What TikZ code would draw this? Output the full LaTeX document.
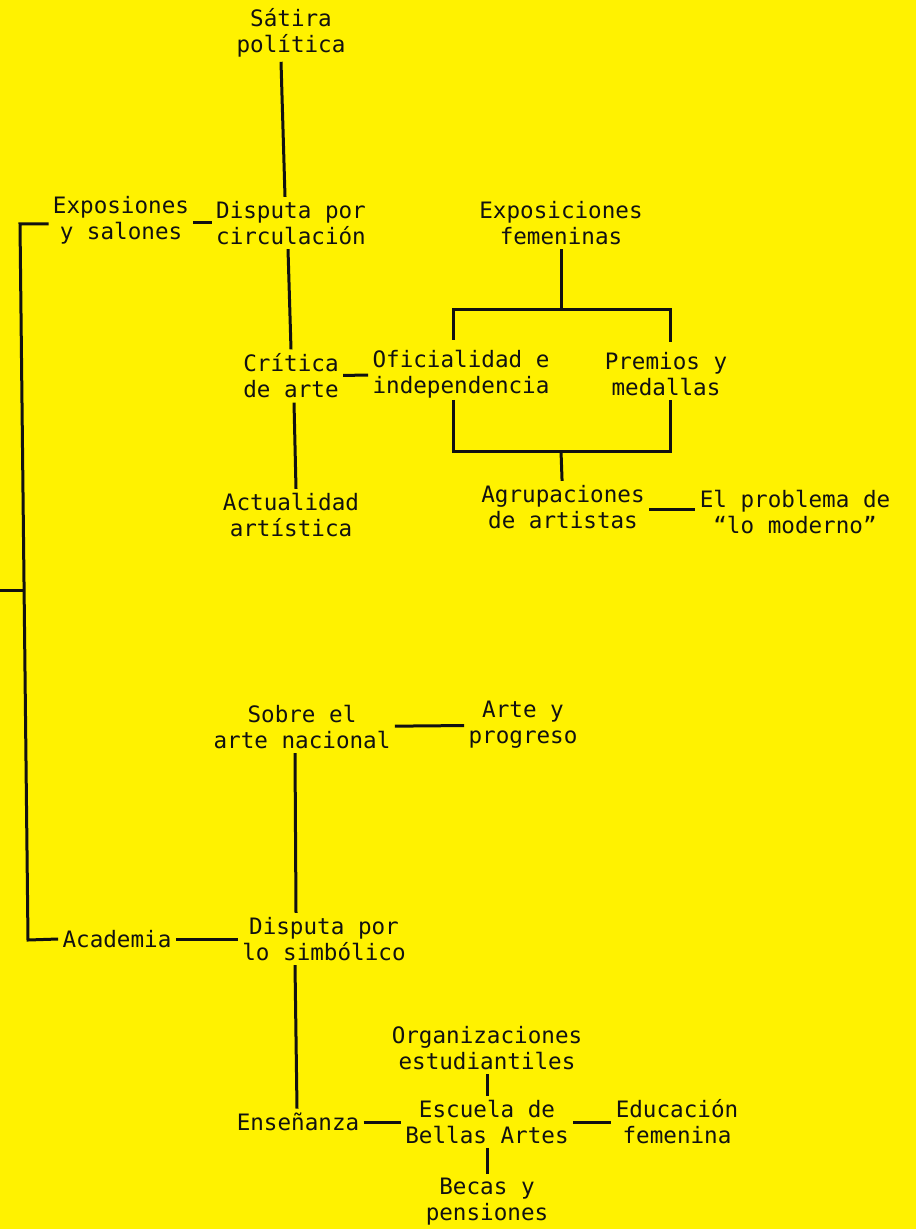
\documentclass[tikz,border=0pt]{standalone}
\usepackage{fontspec}
\setmonofont{DejaVu Sans Mono}
\usepackage{xcolor}
\definecolor{MapYellow}{HTML}{FFF200}
\definecolor{InkBlack}{HTML}{111111}

\begin{document}
\begin{tikzpicture}[
        x=0.5pt, y=-0.5pt,
        topic/.style={align=center, inner xsep=2pt, inner ysep=2pt, text=InkBlack, font=\fontsize{11.3}{13}\selectfont\ttfamily},
        link/.style={draw=InkBlack, line width=1.5pt}
    ]
        \fill [MapYellow] (0,0) rectangle (916,1229);
        \useasboundingbox (0,0) rectangle (916,1229);

        \node [topic] (satira) at (291,33) {Sátira\\política};
        \node [topic] (expo) at (121,220) {Exposiones\\y salones};
        \node [topic] (dcirc) at (291,223) {Disputa por\\circulación};
        \node [topic] (femen) at (561,223) {Exposiciones\\femeninas};
        \node [topic] (critica) at (291,376) {Crítica\\de arte};
        \node [topic] (ofic) at (461,374) {Oficialidad e\\independencia};
        \node [topic] (premios) at (666,374) {Premios y\\medallas};
        \node [topic] (actual) at (291,515) {Actualidad\\artística};
        \node [topic] (agrup) at (563,507) {Agrupaciones\\de artistas};
        \node [topic] (moderno) at (795,512) {El problema de\\“lo moderno”};
        \node [topic] (sobre) at (302,727) {Sobre el\\arte nacional};
        \node [topic] (progreso) at (523,725) {Arte y\\progreso};
        \node [topic] (academia) at (117,939) {Academia};
        \node [topic] (dsimb) at (324,939) {Disputa por\\lo simbólico};
        \node [topic] (organiz) at (487,1048) {Organizaciones\\estudiantiles};
        \node [topic] (ensen) at (298,1122) {Enseñanza};
        \node [topic] (escuela) at (487,1122) {Escuela de\\Bellas Artes};
        \node [topic] (educ) at (677,1122) {Educación\\femenina};
        \node [topic] (becas) at (487,1202) {Becas y\\pensiones};

        \coordinate (rootstub) at (0,590);
        \coordinate (trunkmid) at (24,590);
        \coordinate (topcorner) at (20,224);
        \coordinate (botcorner) at (28,940);
        \coordinate (brtopmid) at (561,310);
        \coordinate (brtopL) at (453,340);
        \coordinate (brtopR) at (670,342);
        \coordinate (brbotmid) at (561,451);
        \coordinate (brbotL) at (453,400);
        \coordinate (brbotR) at (670,400);

        \draw [link] ([yshift=-2pt]expo.west) -- (topcorner) -- (botcorner) -- (academia.west);
        \draw [link] (rootstub) -- (trunkmid);
        \draw [link] (expo.east |- dcirc.west) -- (dcirc.west);
        \draw [link] ([xshift=-5pt]satira.south) -- ([xshift=-3pt]dcirc.north);
        \draw [link] ([xshift=-1.5pt]dcirc.south) -- (critica.north);
        \draw [link] ([xshift=1.5pt]critica.south) -- ([xshift=2.5pt]actual.north);
        \draw [link] (critica) -- (ofic);
        \draw [link] (femen) -- (brtopmid);
        \draw [link] (brtopL) |- (brtopmid) -| (brtopR);
        \draw [link] (brbotL) |- (brbotmid) -| (brbotR);
        \draw [link] (brbotmid) -- (agrup);
        \draw [link] ([yshift=-1pt]agrup.east) -- ([yshift=1.5pt]moderno.west);
        \draw [link] (sobre) -- (progreso);
        \draw [link] ([xshift=-3.5pt]sobre.south) -- ([xshift=-14pt]dsimb.north);
        \draw [link] (academia) -- (dsimb);
        \draw [link] ([xshift=-14.5pt]dsimb.south) -- ([xshift=-0.5pt]ensen.north);
        \draw [link] (ensen) -- (escuela);
        \draw [link] (escuela) -- (educ);
        \draw [link] (organiz) -- (escuela);
        \draw [link] (escuela) -- (becas);
    \end{tikzpicture}
\end{document}
